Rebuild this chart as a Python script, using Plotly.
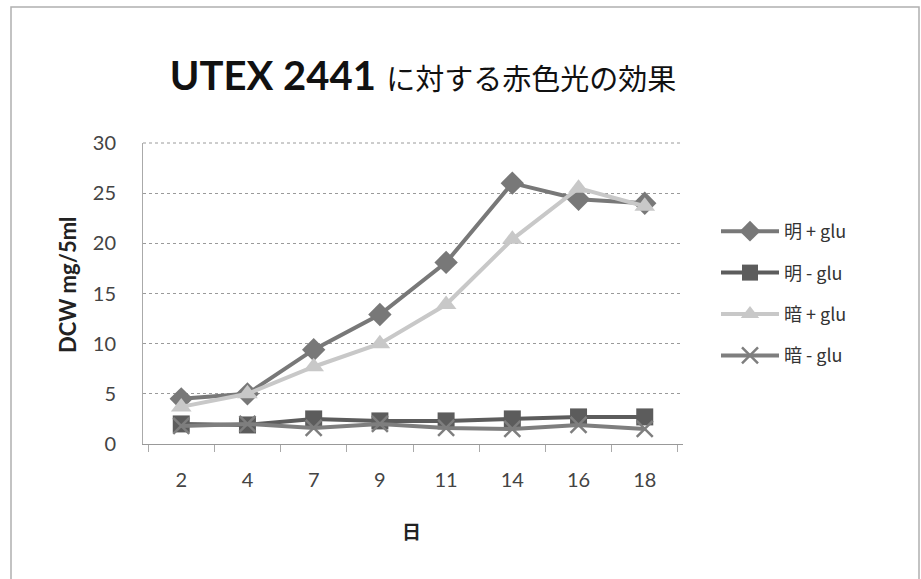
import plotly.graph_objects as go

# Culture day (category axis)
days = ["2", "4", "7", "9", "11", "14", "16", "18"]

# Dry cell weight, mg / 5 ml
light_plus_glu = [4.5, 5.0, 9.4, 12.9, 18.1, 26.0, 24.4, 24.0]
light_minus_glu = [2.0, 1.9, 2.5, 2.3, 2.3, 2.5, 2.7, 2.7]
dark_plus_glu = [3.7, 5.0, 7.7, 10.0, 13.9, 20.4, 25.5, 23.7]
dark_minus_glu = [1.8, 2.0, 1.6, 2.0, 1.6, 1.5, 1.9, 1.5]

series_names = ["明 + glu", "明 - glu", "暗 + glu", "暗 - glu"]
series_values = [light_plus_glu, light_minus_glu, dark_plus_glu, dark_minus_glu]
series_colors = ["#787878", "#5c5c5c", "#c8c8c8", "#7e7e7e"]
series_symbols = ["diamond", "square", "triangle-up", "x-thin"]
series_sizes = [18, 17, 18, 16]

CJK = "Noto Sans CJK JP"
LATIN = "Lato"

fig = go.Figure()
for i, (name, vals, col, sym, sz) in enumerate(
    zip(series_names, series_values, series_colors, series_symbols, series_sizes)
):
    marker = dict(symbol=sym, size=sz, color=col)
    if sym == "x-thin":
        marker["line"] = dict(color=col, width=2.5)
    fig.add_trace(
        go.Scatter(
            x=days,
            y=vals,
            name=name,
            mode="lines+markers",
            line=dict(color=col, width=4),
            marker=marker,
            legendgroup=f"g{i}",
        )
    )

# plot area: x 143..683, y 143..444 in a 921x579 page
L, R, T, B = 143, 683, 143, 444
W, H = 921, 579
pw, ph = R - L, B - T


def px(x):
    return (x - L) / pw


def py(y):
    return (B - y) / ph


fig.update_layout(
    width=W,
    height=H,
    margin=dict(l=L, r=W - R, t=T, b=H - B, pad=0),
    paper_bgcolor="white",
    plot_bgcolor="white",
    font=dict(family=f"{LATIN}, {CJK}", color="#333333"),
    title=dict(
        text=(
            "<b>UTEX 2441</b> "
            f"<span style='font-family:{CJK}; font-size:29px; font-weight:400'>"
            "に対する赤色光の効果</span>"
        ),
        font=dict(family=f"{LATIN}, {CJK}", size=40, color="#111111"),
        x=423 / W,
        xanchor="center",
        xref="container",
        y=1 - 76 / H,
        yanchor="middle",
    ),
    showlegend=True,
    legend=dict(
        x=px(716),
        xanchor="left",
        y=py(213),
        yanchor="top",
        font=dict(family=f"{CJK}", size=18, color="#333333"),
        itemwidth=58,
        tracegroupgap=15,
        bgcolor="rgba(0,0,0,0)",
    ),
    xaxis=dict(
        type="category",
        tickson="boundaries",
        ticks="outside",
        ticklen=7,
        tickcolor="#aaaaaa",
        showline=True,
        linecolor="#999999",
        linewidth=1,
        showgrid=False,
        tickfont=dict(family=LATIN, size=20, color="#444444"),
        ticklabelstandoff=18,
    ),
    yaxis=dict(
        range=[0, 30],
        dtick=5,
        showline=True,
        linecolor="#aaaaaa",
        linewidth=1,
        showgrid=True,
        gridcolor="#9a9a9a",
        griddash="dot",
        gridwidth=1,
        zeroline=False,
        ticks="",
        tickfont=dict(family=LATIN, size=20, color="#444444"),
        ticklabelstandoff=22,
    ),
    annotations=[
        dict(
            text="<b>DCW mg/5ml</b>",
            textangle=-90,
            xref="paper",
            yref="paper",
            x=px(67),
            y=py(285),
            xanchor="center",
            yanchor="middle",
            showarrow=False,
            font=dict(family=LATIN, size=22, color="#222222"),
        ),
        dict(
            text="<b>日</b>",
            xref="paper",
            yref="paper",
            x=px(411),
            y=py(530),
            xanchor="center",
            yanchor="middle",
            showarrow=False,
            font=dict(family=CJK, size=19, color="#222222"),
        ),
    ],
    shapes=[
        # outer chart-area frame
        dict(
            type="rect",
            xref="paper",
            yref="paper",
            x0=px(11),
            x1=px(919),
            y0=py(590),
            y1=py(7),
            line=dict(color="#b0b0b0", width=1.5),
            fillcolor="rgba(0,0,0,0)",
            layer="below",
        ),
        # dotted gridline along the top edge of the plot area
        dict(
            type="line",
            xref="paper",
            yref="paper",
            x0=0,
            x1=1,
            y0=1,
            y1=1,
            line=dict(color="#9a9a9a", width=1, dash="dot"),
            layer="below",
        ),
    ],
)

fig.write_html("out.html")
